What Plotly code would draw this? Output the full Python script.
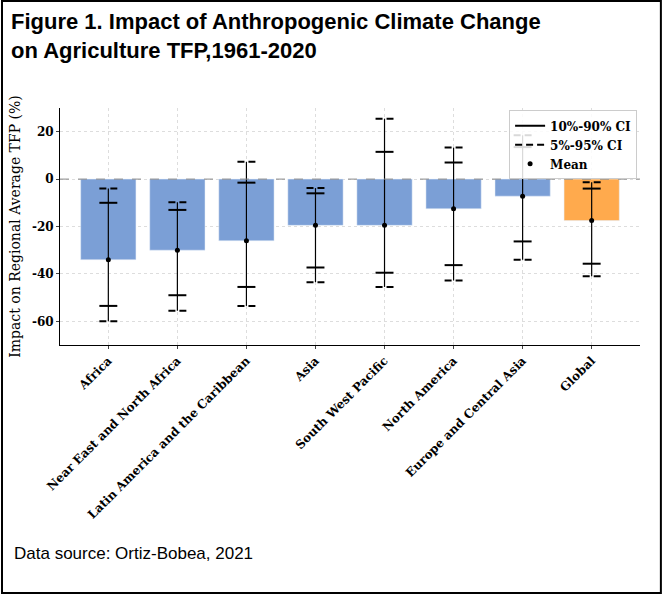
import plotly.graph_objects as go

regions = ['Africa', 'Near East and North Africa', 'Latin America and the Caribbean', 'Asia',
           'South West Pacific', 'North America', 'Europe and Central Asia', 'Global']
mean = [-34, -30, -26, -19.5, -19.5, -12.5, -7.2, -17.5]
p10 = [-53.5, -49, -45.5, -37.3, -39.5, -36.3, -26.3, -35.7]
p90 = [-10, -13, -1.5, -6, 11.5, 7, 13.5, -4]
p05 = [-60, -55.5, -53.5, -43.5, -45.5, -42.8, -34, -41]
p95 = [-4, -9.8, 7.3, -3.8, 25.5, 13.3, 18.5, -1.3]
colors = ['#7b9fd6'] * 7 + ['#ffaa4d']

x = list(range(len(regions)))
serif = 'DejaVu Serif'
fig = go.Figure()
fig.add_trace(go.Bar(x=x, y=mean, marker_color=colors, width=0.8, showlegend=False))

# vertical whisker lines (5-95)
vx, vy = [], []
for i in x:
    vx += [i, i, None]
    vy += [p05[i], p95[i], None]
fig.add_trace(go.Scatter(x=vx, y=vy, mode='lines', line=dict(color='black', width=1.2), showlegend=False))

def caps(lo, hi):
    cx, cy = [], []
    for i in x:
        for v in (lo[i], hi[i]):
            cx += [i - 0.13, i + 0.13, None]
            cy += [v, v, None]
    return cx, cy

cx, cy = caps(p10, p90)
fig.add_trace(go.Scatter(x=cx, y=cy, mode='lines', line=dict(color='black', width=2),
                         name='<b>10%-90% CI</b>'))
cx, cy = caps(p05, p95)
fig.add_trace(go.Scatter(x=cx, y=cy, mode='lines', line=dict(color='black', width=2, dash='7px,4px'),
                         name='<b>5%-95% CI</b>'))
fig.add_trace(go.Scatter(x=x, y=mean, mode='markers', marker=dict(color='black', size=5),
                         name='<b>Mean</b>'))

fig.update_layout(
    width=663, height=594, plot_bgcolor='white', paper_bgcolor='white',
    margin=dict(l=60, r=23, t=108, b=249),
    font=dict(family=serif, size=12, color='black'),
    legend=dict(x=0.995, y=0.99, xanchor='right', yanchor='top', bordercolor='#cccccc',
                borderwidth=1, bgcolor='rgba(255,255,255,0.85)', font=dict(size=12, family=serif),
                itemwidth=30, tracegroupgap=0),
    annotations=[dict(text='<b>Figure 1. Impact of Anthropogenic Climate Change<br>on Agriculture TFP,1961-2020</b>',
                      xref='paper', yref='paper', x=-0.088, y=1.425, xanchor='left', yanchor='top',
                      align='left', showarrow=False,
                      font=dict(family='Arial', size=22, color='black')),
                 dict(text='Data source: Ortiz-Bobea, 2021', xref='paper', yref='paper',
                      x=-0.083, y=-0.88, xanchor='left', yanchor='middle', showarrow=False,
                      font=dict(family='Arial', size=17, color='black'))],
    shapes=[dict(type='rect', xref='paper', yref='paper', x0=-0.1, x1=1.036, y0=-1.046, y1=1.452,
                 line=dict(color='black', width=2), layer='below'),
            dict(type='line', xref='paper', yref='y', x0=0, x1=1, y0=0, y1=0,
                 line=dict(color='#888888', width=1, dash='dash'))],
)
fig.update_xaxes(tickvals=x, ticktext=['<b>%s</b>' % r for r in regions], tickangle=-45,
                 range=[-0.7, 7.7], showgrid=True, gridcolor='#dddddd', griddash='dot',
                 showline=True, linecolor='black', ticks='outside', ticklen=3, zeroline=False)
fig.update_yaxes(range=[-70, 30], tickvals=[-60, -40, -20, 0, 20],
                 ticktext=['<b>%d</b>' % v for v in [-60, -40, -20, 0, 20]],
                 showgrid=True, gridcolor='#dddddd', griddash='dot', showline=True,
                 linecolor='black', ticks='outside', ticklen=3, zeroline=False,
                 title=dict(text='Impact on Regional Average TFP (%)', font=dict(size=14), standoff=8))
fig.write_html('out.html', config={'displayModeBar': False},
               post_script="document.body.style.margin='0';")
